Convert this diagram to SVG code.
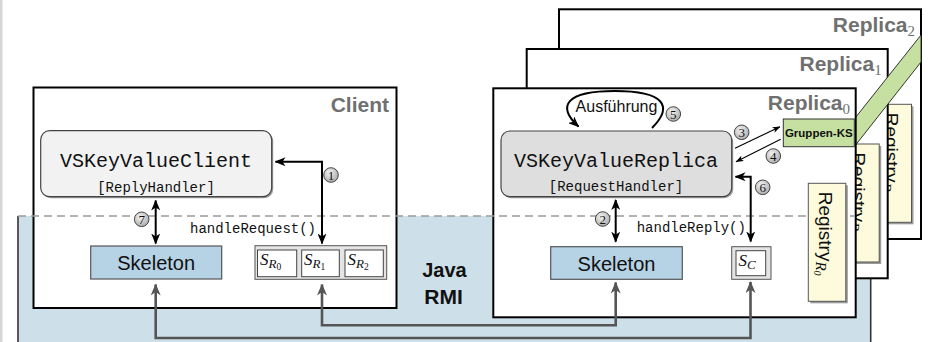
<svg xmlns="http://www.w3.org/2000/svg" width="928" height="342" viewBox="0 0 928 342">
<style>
.frame{fill:#fff;stroke:#000;stroke-width:2}
.lbl{font-family:"Liberation Sans",Arial,sans-serif;font-weight:bold;font-size:21px;fill:#707070}
.sub{font-family:"Liberation Serif","Times New Roman",serif;font-size:15px;font-weight:normal;fill:#707070}
.mono{font-family:"Liberation Mono","Courier New",monospace;fill:#111}
.sans{font-family:"Liberation Sans",Arial,sans-serif;fill:#111}
.math{font-family:"Liberation Serif","Times New Roman",serif;font-style:italic;fill:#111}
.skel{fill:#b6d3e5;stroke:#555;stroke-width:1.2}
.reg{fill:#fdfbdc;stroke:#555;stroke-width:1}
.regsh{fill:#9a9a9a}
.blk{fill:none;stroke:#000;stroke-width:2}
.thin{fill:none;stroke:#000;stroke-width:1.1}
.rmi{fill:none;stroke:#555;stroke-width:2.6}
.num circle{fill:url(#cg);stroke:#333;stroke-width:0.9}
.num text{font-family:"Liberation Serif","Times New Roman",serif;font-size:13px;fill:#111;text-anchor:middle}
</style>
<defs>
<radialGradient id="cg" cx="0.4" cy="0.35" r="0.7">
<stop offset="0" stop-color="#f4f4f4"/>
<stop offset="1" stop-color="#a8a8a8"/>
</radialGradient>
<marker id="ah" markerUnits="userSpaceOnUse" markerWidth="11" markerHeight="9" refX="10" refY="4.5" orient="auto-start-reverse">
<path d="M0,0 L11,4.5 L0,9 L3,4.5 Z" fill="#000"/>
</marker>
<marker id="ahs" markerUnits="userSpaceOnUse" markerWidth="8" markerHeight="6" refX="7.5" refY="3" orient="auto">
<path d="M0,0 L8,3 L0,6 L2,3 Z" fill="#000"/>
</marker>
<marker id="ahg" markerUnits="userSpaceOnUse" markerWidth="12" markerHeight="10" refX="11" refY="5" orient="auto-start-reverse">
<path d="M0,0 L12,5 L0,10 L3.5,5 Z" fill="#555"/>
</marker>
</defs>

<rect x="0" y="0" width="928" height="342" fill="#fff"/>
<rect x="0" y="0" width="2.5" height="342" fill="#d6d6d6"/>

<g id="java-rmi">
<rect x="18" y="216" width="853" height="130" fill="#cde0ea"/>
<line x1="18" y1="216" x2="18" y2="342" stroke="#333" stroke-width="1.6"/>
<line x1="870.7" y1="216" x2="870.7" y2="342" stroke="#333" stroke-width="1.6"/>
<text class="sans" x="444.5" y="277" font-size="20" font-weight="bold" text-anchor="middle" fill="#2a2a2a">Java</text>
<text class="sans" x="443.5" y="303.5" font-size="21" font-weight="bold" text-anchor="middle" fill="#2a2a2a">RMI</text>
</g>

<g id="replica2">
<rect class="frame" x="559" y="9.3" width="362" height="229.7"/>
<text class="lbl" x="915" y="31.7" text-anchor="end">Replica<tspan class="sub" dy="4">2</tspan></text>
</g>
<g id="registry-r2">
<rect class="regsh" x="876" y="106.3" width="37.5" height="118"/>
<rect class="reg" x="874" y="104.3" width="37.5" height="118"/>
<text class="sans" font-size="19" transform="translate(884.7,112.7) rotate(90)">Registry<tspan class="math" font-size="15" dy="3.5">R</tspan><tspan class="math" font-style="normal" font-size="10" dy="2">2</tspan></text>
</g>

<g id="replica1">
<rect class="frame" x="526.7" y="49" width="361" height="229.3"/>
<text class="lbl" x="881.7" y="70.7" text-anchor="end">Replica<tspan class="sub" dy="4">1</tspan></text>
</g>
<g id="registry-r1">
<rect class="regsh" x="843.7" y="146" width="37.5" height="118"/>
<rect class="reg" x="841.7" y="144" width="37.5" height="118"/>
<text class="sans" font-size="19" transform="translate(852.4,152.4) rotate(90)">Registry<tspan class="math" font-size="15" dy="3.5">R</tspan><tspan class="math" font-style="normal" font-size="10" dy="2">1</tspan></text>
</g>

<g id="group-band">
<polygon points="854.3,119 921,35 921,62 854.3,146.7" fill="#c5e0a0" stroke="#333" stroke-width="1"/>
</g>

<g id="replica0">
<rect class="frame" x="493.3" y="88.3" width="362.4" height="229"/>
<text class="lbl" x="850" y="110" text-anchor="end">Replica<tspan class="sub" dy="4">0</tspan></text>
</g>

<g id="client">
<rect class="frame" x="33.5" y="87.5" width="363" height="220.5" stroke-width="2.5"/>
<text class="lbl" x="389" y="112" text-anchor="end">Client</text>
</g>

<g id="divider">
<line x1="18" y1="216" x2="855" y2="216" stroke="#9a9a9a" stroke-width="1.6" stroke-dasharray="8,5"/>
</g>

<g id="registry-r0">
<rect class="regsh" x="810.3" y="185.3" width="37.5" height="118"/>
<rect class="reg" x="808.3" y="183.3" width="37.5" height="118"/>
<text class="sans" font-size="19" transform="translate(819,191.7) rotate(90)">Registry<tspan class="math" font-size="15" dy="3.5">R</tspan><tspan class="math" font-style="normal" font-size="10" dy="2">0</tspan></text>
</g>

<g id="gruppen-ks">
<rect x="783.3" y="119" width="71" height="27.7" fill="#c5e0a0" stroke="#333" stroke-width="1"/>
<text class="sans" x="818.8" y="137" font-size="11.5" font-weight="bold" text-anchor="middle">Gruppen-KS</text>
</g>

<g id="vskeyvalueclient">
<rect x="42.2" y="132.2" width="231" height="66" rx="9" fill="#9a9a9a"/>
<rect x="40.7" y="130.7" width="231" height="66" rx="9" fill="#f2f2f2" stroke="#444" stroke-width="1.2"/>
<text class="mono" x="156" y="167" font-size="20" text-anchor="middle">VSKeyValueClient</text>
<text class="mono" x="156" y="191.5" font-size="14" text-anchor="middle">[ReplyHandler]</text>
</g>

<g id="vskeyvaluereplica">
<rect x="502.5" y="132.5" width="230.7" height="65.7" rx="9" fill="#9a9a9a"/>
<rect x="501" y="131" width="230.7" height="65.7" rx="9" fill="#dedede" stroke="#444" stroke-width="1.2"/>
<text class="mono" x="616" y="167" font-size="20" text-anchor="middle">VSKeyValueReplica</text>
<text class="mono" x="616" y="190.5" font-size="14" text-anchor="middle">[RequestHandler]</text>
</g>

<g id="skeleton-client">
<rect class="skel" x="90.7" y="246" width="131" height="33"/>
<text class="sans" x="156.2" y="270" font-size="20" text-anchor="middle">Skeleton</text>
</g>

<g id="skeleton-replica">
<rect class="skel" x="550.7" y="246.7" width="131.6" height="32.6"/>
<text class="sans" x="616.5" y="270.5" font-size="20" text-anchor="middle">Skeleton</text>
</g>

<g id="stubs-client">
<rect x="255" y="245.7" width="131.7" height="33.6" fill="#e4e4e4" stroke="#555" stroke-width="1"/>
<rect x="257.5" y="250" width="39.2" height="26.7" fill="#fff" stroke="#444" stroke-width="1"/>
<rect x="301.7" y="250" width="37.6" height="26.7" fill="#fff" stroke="#444" stroke-width="1"/>
<rect x="345" y="250" width="38.3" height="26.7" fill="#fff" stroke="#444" stroke-width="1"/>
<text class="math" x="260" y="264.5" font-size="17">S<tspan font-size="13" dy="3">R</tspan><tspan font-style="normal" font-size="9.5" dy="2">0</tspan></text>
<text class="math" x="304" y="264.5" font-size="17">S<tspan font-size="13" dy="3">R</tspan><tspan font-style="normal" font-size="9.5" dy="2">1</tspan></text>
<text class="math" x="347.5" y="264.5" font-size="17">S<tspan font-size="13" dy="3">R</tspan><tspan font-style="normal" font-size="9.5" dy="2">2</tspan></text>
</g>

<g id="stub-replica">
<rect x="731.7" y="246.7" width="39.3" height="32.6" fill="#e4e4e4" stroke="#555" stroke-width="1"/>
<rect x="736" y="250.7" width="29.7" height="25" fill="#fff" stroke="#444" stroke-width="1"/>
<text class="math" x="738.5" y="266" font-size="17">S<tspan font-size="13" dy="3">C</tspan></text>
</g>

<g id="connectors">
<path class="blk" d="M322,243.5 V161.7 H275.5" marker-start="url(#ah)" marker-end="url(#ah)"/>
<path class="blk" d="M155.7,200.5 V243.5" marker-start="url(#ah)" marker-end="url(#ah)"/>
<path class="blk" d="M615.7,200 V241.7" marker-start="url(#ah)" marker-end="url(#ah)"/>
<path class="blk" d="M750.7,241.5 V176.7 H735.5" marker-start="url(#ah)" marker-end="url(#ah)"/>
<path class="thin" d="M735,148.3 L780,126.7" marker-end="url(#ahs)"/>
<path class="thin" d="M780.7,139.3 L736,161.7" marker-end="url(#ahs)"/>
<path class="blk" d="M652,128 C674,106 664,91 615,91 C566,91 556,106 578.5,126.5" marker-end="url(#ah)"/>
<path class="rmi" d="M155.7,284.5 V338 H750.5 V282" marker-start="url(#ahg)" marker-end="url(#ahg)"/>
<path class="rmi" d="M322,284.5 V325.3 H615.7 V282.5" marker-start="url(#ahg)" marker-end="url(#ahg)"/>
<text class="mono" x="190" y="232.5" font-size="14">handleRequest()</text>
<text class="mono" x="636.7" y="232" font-size="14">handleReply()</text>
<text class="sans" x="616.5" y="111.5" font-size="16" text-anchor="middle">Ausführung</text>
<g class="num"><circle cx="331" cy="175" r="7.3"/><text x="331" y="179.5">1</text></g>
<g class="num"><circle cx="602.7" cy="219" r="7.3"/><text x="602.7" y="223.5">2</text></g>
<g class="num"><circle cx="741.7" cy="132.3" r="7.3"/><text x="741.7" y="136.8">3</text></g>
<g class="num"><circle cx="773.3" cy="156" r="7.3"/><text x="773.3" y="160.5">4</text></g>
<g class="num"><circle cx="673.3" cy="114" r="7.3"/><text x="673.3" y="118.5">5</text></g>
<g class="num"><circle cx="762.7" cy="187.3" r="7.3"/><text x="762.7" y="191.8">6</text></g>
<g class="num"><circle cx="141.7" cy="219.3" r="7.3"/><text x="141.7" y="223.8">7</text></g>
</g>
</svg>
